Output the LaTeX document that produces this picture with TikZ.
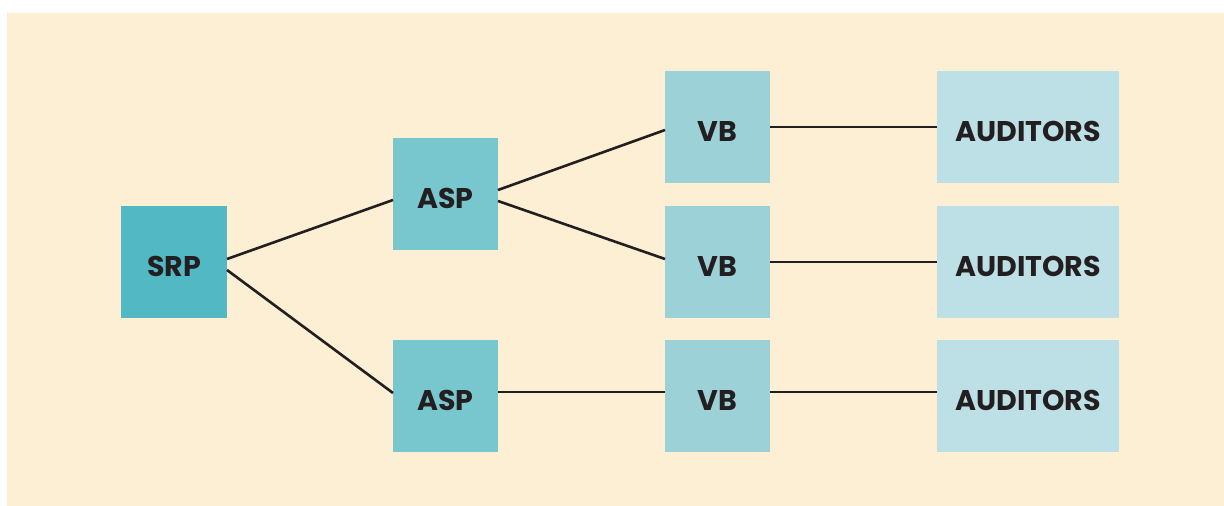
\documentclass[tikz,border=0pt]{standalone}
\usepackage{fontspec}
\setmainfont{Poppins}
\definecolor{bgc}{HTML}{FDEFD4}
\definecolor{srpc}{HTML}{52B8C4}
\definecolor{aspc}{HTML}{78C6CE}
\definecolor{vbc}{HTML}{9DD1D8}
\definecolor{audc}{HTML}{BCE0E5}
\definecolor{txt}{HTML}{231F20}
\begin{document}
\begin{tikzpicture}[x=1pt,y=-1pt,
  box/.style={inner sep=0pt, outer sep=0pt, minimum height=112pt, text=txt,
    text height=28pt, text depth=0pt,
    font=\fontsize{28.5}{28.5}\selectfont\bfseries},
  link/.style={draw=txt, line width=2.6pt}]
\useasboundingbox (0,0) rectangle (1224,506);
\fill[bgc] (7,13) rectangle (1224,506);
\node[box, fill=srpc, minimum width=106pt] (srp) at (174,262) {SRP};
\node[box, fill=aspc, minimum width=105pt] (asp1) at (445.5,194) {ASP};
\node[box, fill=aspc, minimum width=105pt] (asp2) at (445.5,396) {ASP};
\node[box, fill=vbc, minimum width=105pt] (vb1) at (717.5,127) {VB};
\node[box, fill=vbc, minimum width=105pt] (vb2) at (717.5,262) {VB};
\node[box, fill=vbc, minimum width=105pt] (vb3) at (717.5,396) {VB};
\node[box, fill=audc, minimum width=182pt] (aud1) at (1028,127) {AUDITORS};
\node[box, fill=audc, minimum width=182pt] (aud2) at (1028,262) {AUDITORS};
\node[box, fill=audc, minimum width=182pt] (aud3) at (1028,396) {AUDITORS};
\draw[link] ([yshift=3pt]srp.east) -- ([yshift=-6pt]asp1.west);
\draw[link] ([yshift=-8pt]srp.east) -- ([yshift=3pt]asp2.west);
\draw[link] ([yshift=4pt]asp1.east) -- ([yshift=-3pt]vb1.west);
\draw[link] ([yshift=-7pt]asp1.east) -- ([yshift=3pt]vb2.west);
\draw[link] ([yshift=4pt]asp2.east) -- ([yshift=4pt]vb3.west);
\draw[link] (vb1.east) -- (aud1.west);
\draw[link] (vb2.east) -- (aud2.west);
\draw[link] ([yshift=4pt]vb3.east) -- ([yshift=4pt]aud3.west);
\end{tikzpicture}
\end{document}
